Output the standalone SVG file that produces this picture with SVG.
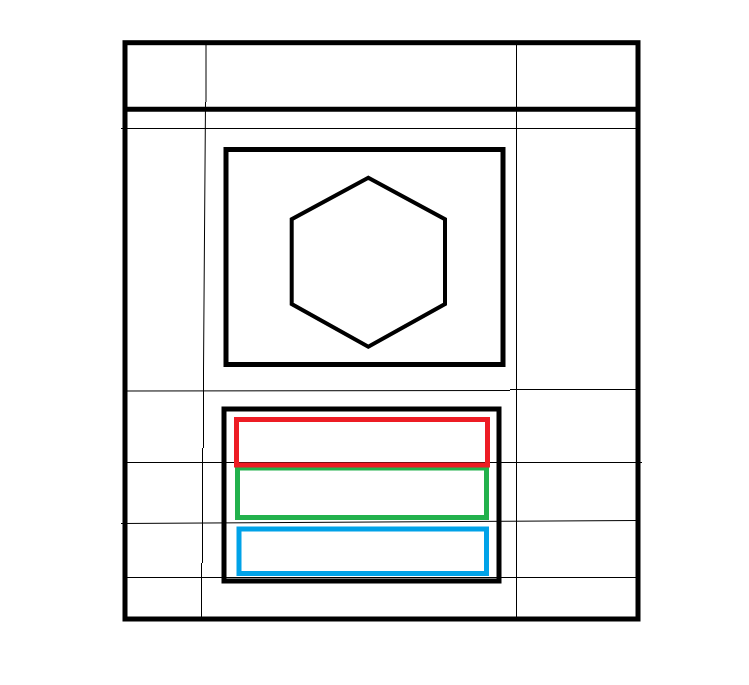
<svg xmlns="http://www.w3.org/2000/svg" width="749" height="685" viewBox="0 0 749 685">
<style>
.thin{fill:none;stroke:#000;stroke-width:1}
.thick{fill:none;stroke:#000;stroke-width:5}
.hex{fill:none;stroke:#000;stroke-width:4;stroke-linejoin:miter}
.red{fill:none;stroke:#ED1C24;stroke-width:5}
.green{fill:none;stroke:#22B14C;stroke-width:5}
.blue{fill:none;stroke:#00A2E8;stroke-width:5}
</style>
<rect width="749" height="685" fill="#fff"/>
<g id="grid-lines">
<path class="thin" d="M206,45 V102 M205.5,102 L203.5,370 V448 M202.5,448 V563 M201.5,563 V617"/>
<path class="thin" d="M516.5,45 V617"/>
<path class="thin" d="M121,128.5 H636"/>
<path class="thin" d="M125,391 L510,390.5 M510,389.5 H637"/>
<path class="thin" d="M127,462.5 H642"/>
<path class="thin" d="M121,523.5 L637,520.5"/>
<path class="thin" d="M127,577.5 H637"/>
</g>
<g id="frame">
<rect class="thick" x="125" y="42.7" width="513" height="576.3"/>
<line class="thick" x1="125" y1="109.2" x2="638" y2="109.2"/>
</g>
<g id="top-box">
<rect class="thick" x="226" y="149.5" width="277" height="215"/>
<polygon class="hex" points="368.3,177.7 445,219.3 445,304 368.3,346.7 291.7,304 291.7,219.3"/>
</g>
<g id="bottom-box">
<rect class="thick" x="224" y="409" width="275" height="172"/>
</g>
<g id="blue-box"><rect class="blue" x="239" y="529" width="247.5" height="44.5"/></g>
<g id="green-box"><rect class="green" x="237.5" y="468" width="249" height="49.5"/></g>
<g id="red-box"><rect class="red" x="236.5" y="419.5" width="251" height="45.5"/></g>
</svg>
